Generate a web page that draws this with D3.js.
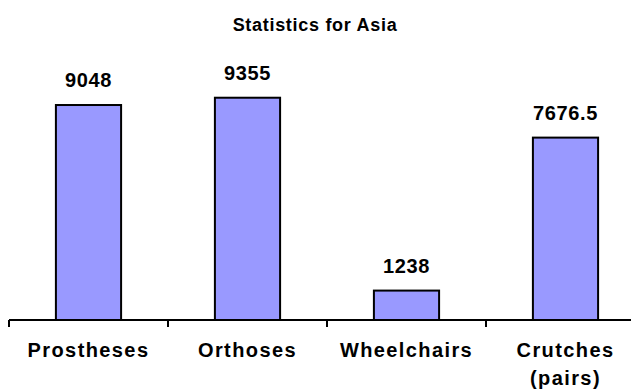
<!DOCTYPE html>
<html>
<head>
<meta charset="utf-8">
<script src="https://cdn.jsdelivr.net/npm/d3@7"></script>
<style>
  html, body { margin: 0; padding: 0; background: #fff; }
  svg { display: block; }
  text { font-family: "Liberation Sans", Arial, sans-serif; font-weight: bold; fill: #000; }
</style>
</head>
<body>
<script>
// Device counts per category
const categories = ["Prostheses", "Orthoses", "Wheelchairs", "Crutches\n(pairs)"];
const values = [9048, 9355, 1238, 7676.5];
const valueLabels = ["9048", "9355", "1238", "7676.5"];
const title = "Statistics for Asia";

const W = 631, H = 390;
const svg = d3.select("body").append("svg").attr("width", W).attr("height", H);

const x = d3.scaleBand()
  .domain(categories)
  .range([9, 645])
  .paddingInner(0.59)
  .paddingOuter(0.295);

const y = d3.scaleLinear().domain([0, 10000]).range([320, 82.4]);

// Title
svg.append("text")
  .attr("x", 315).attr("y", 31)
  .attr("text-anchor", "middle")
  .style("font-size", "18px")
  .style("letter-spacing", "0.7px")
  .text(title);

// Bars
svg.selectAll("rect.bar")
  .data(values)
  .join("rect")
  .attr("class", "bar")
  .attr("x", (d, i) => x(categories[i]))
  .attr("width", x.bandwidth())
  .attr("y", d => y(d))
  .attr("height", d => y(0) - y(d))
  .attr("fill", "#9999FF")
  .attr("stroke", "#000")
  .attr("stroke-width", 2);

// Value labels
svg.selectAll("text.val")
  .data(values)
  .join("text")
  .attr("class", "val")
  .attr("x", (d, i) => x(categories[i]) + x.bandwidth() / 2)
  .attr("y", d => y(d) - 18)
  .attr("text-anchor", "middle")
  .style("font-size", "20px")
  .style("letter-spacing", "0.6px")
  .text((d, i) => valueLabels[i]);

// Category axis: line, boundary ticks and wrapped labels
const gap = x.step() - x.bandwidth();
const axisG = svg.append("g");
axisG.append("line")
  .attr("x1", 9).attr("x2", W)
  .attr("y1", 320).attr("y2", 320)
  .attr("stroke", "#000").attr("stroke-width", 2);
axisG.selectAll("line.tick")
  .data(categories)
  .join("line")
  .attr("class", "tick")
  .attr("x1", d => x(d) - gap / 2)
  .attr("x2", d => x(d) - gap / 2)
  .attr("y1", 320).attr("y2", 327)
  .attr("stroke", "#000").attr("stroke-width", 2);

axisG.selectAll("text.cat")
  .data(categories)
  .join("text")
  .attr("class", "cat")
  .attr("text-anchor", "middle")
  .attr("x", d => x(d) + x.bandwidth() / 2)
  .attr("y", 357)
  .style("font-size", "20px")
  .style("letter-spacing", "1.4px")
  .each(function (d) {
    const lines = d.split("\n");
    d3.select(this).selectAll("tspan")
      .data(lines)
      .join("tspan")
      .attr("x", x(d) + x.bandwidth() / 2)
      .attr("dy", (l, i) => i === 0 ? 0 : 28)
      .text(l => l);
  });
</script>
</body>
</html>
